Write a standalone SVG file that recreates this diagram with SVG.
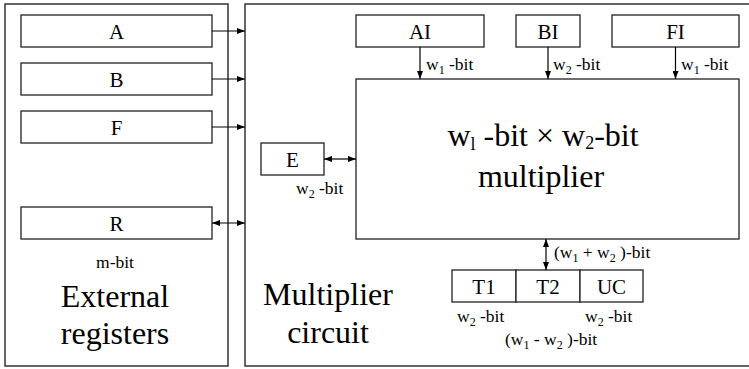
<svg xmlns="http://www.w3.org/2000/svg" width="749" height="369" viewBox="0 0 749 369">
<defs>
<marker id="ah" markerWidth="8" markerHeight="6" refX="8" refY="3" orient="auto-start-reverse" markerUnits="userSpaceOnUse">
<path d="M0,0 L8,3 L0,6 z" fill="#000"/>
</marker>
</defs>
<g fill="#fff" stroke="#333" stroke-width="1.5">
<g id="external"><rect x="5" y="4" width="223" height="362"/></g>
<g id="circuit"><rect x="245" y="4" width="510" height="362"/></g>
</g>
<g fill="#fff" stroke="#222" stroke-width="1.3">
<g id="A"><rect x="21" y="15" width="191" height="32"/></g>
<g id="B"><rect x="21" y="63" width="191" height="32"/></g>
<g id="F"><rect x="21" y="111" width="191" height="32"/></g>
<g id="R"><rect x="21" y="207" width="191" height="32"/></g>
<g id="AI"><rect x="356" y="15" width="128" height="32"/></g>
<g id="BI"><rect x="516" y="15" width="64" height="32"/></g>
<g id="FI"><rect x="612" y="15" width="127" height="32"/></g>
<g id="E"><rect x="261" y="143" width="63" height="32"/></g>
<g id="multiplier"><rect x="356" y="79" width="383" height="160"/></g>
<g id="T1"><rect x="452" y="270" width="64" height="32"/></g>
<g id="T2"><rect x="516" y="270" width="64" height="32"/></g>
<g id="UC"><rect x="580" y="270" width="63" height="32"/></g>
</g>
<g id="labels-box" font-family="Liberation Serif" font-size="21" text-anchor="middle" fill="#000">
<text x="116.5" y="38.5">A</text>
<text x="116.5" y="86.5">B</text>
<text x="116.5" y="134.5">F</text>
<text x="116.5" y="230.5">R</text>
<text x="420" y="38.5">AI</text>
<text x="548" y="38.5">BI</text>
<text x="675.5" y="38.5">FI</text>
<text x="292.5" y="166.5">E</text>
<text x="484" y="293.5">T1</text>
<text x="548" y="293.5">T2</text>
<text x="611.5" y="293.5">UC</text>
</g>
<g id="labels-big" font-family="Liberation Serif" font-size="32" text-anchor="middle" fill="#000">
<text x="115" y="307">External</text>
<text x="115" y="344">registers</text>
<text x="328" y="305">Multiplier</text>
<text x="328" y="343">circuit</text>
<text x="543" y="146">w<tspan font-size="18" dy="4">l</tspan><tspan dy="-4"> -bit </tspan>×<tspan> w</tspan><tspan font-size="18" dy="3">2</tspan><tspan dy="-3">-bit</tspan></text>
<text x="541" y="187">multiplier</text>
</g>
<g id="labels-small" font-family="Liberation Serif" font-size="17.5" fill="#000">
<text x="115" y="268" text-anchor="middle">m-bit</text>
<text x="426" y="70">w<tspan font-size="12" dy="4">1</tspan><tspan dy="-4"> -bit</tspan></text>
<text x="553" y="70">w<tspan font-size="12" dy="4">2</tspan><tspan dy="-4"> -bit</tspan></text>
<text x="681" y="70">w<tspan font-size="12" dy="4">1</tspan><tspan dy="-4"> -bit</tspan></text>
<text x="296" y="194">w<tspan font-size="12" dy="4">2</tspan><tspan dy="-4"> -bit</tspan></text>
<text x="554" y="258">(w<tspan font-size="12" dy="4">1</tspan><tspan dy="-4"> + w</tspan><tspan font-size="12" dy="4">2</tspan><tspan dy="-4"> )-bit</tspan></text>
<text x="457" y="322">w<tspan font-size="12" dy="4">2</tspan><tspan dy="-4"> -bit</tspan></text>
<text x="585" y="322">w<tspan font-size="12" dy="4">2</tspan><tspan dy="-4"> -bit</tspan></text>
<text x="505" y="345">(w<tspan font-size="12" dy="4">1</tspan><tspan dy="-4"> - w</tspan><tspan font-size="12" dy="4">2</tspan><tspan dy="-4"> )-bit</tspan></text>
</g>
<g id="connectors" stroke="#000" stroke-width="1.2" fill="none">
<line x1="212" y1="31" x2="245" y2="31" marker-end="url(#ah)"/>
<line x1="212" y1="79" x2="245" y2="79" marker-end="url(#ah)"/>
<line x1="212" y1="127" x2="245" y2="127" marker-end="url(#ah)"/>
<line x1="212" y1="223" x2="245" y2="223" marker-start="url(#ah)" marker-end="url(#ah)"/>
<line x1="420" y1="47" x2="420" y2="79" marker-end="url(#ah)"/>
<line x1="548" y1="47" x2="548" y2="79" marker-end="url(#ah)"/>
<line x1="675.5" y1="47" x2="675.5" y2="79" marker-end="url(#ah)"/>
<line x1="324" y1="159" x2="356" y2="159" marker-start="url(#ah)" marker-end="url(#ah)"/>
<line x1="546" y1="239" x2="546" y2="270" marker-start="url(#ah)" marker-end="url(#ah)"/>
</g>
</svg>
